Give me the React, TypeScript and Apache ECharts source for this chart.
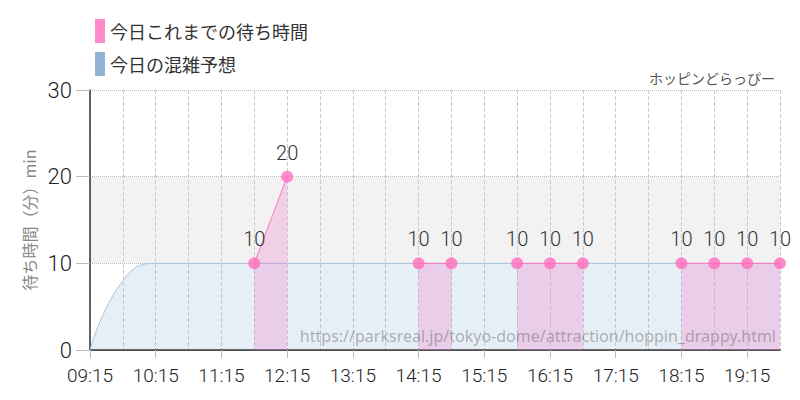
import React, { useEffect, useRef } from "react";
import * as echarts from "echarts";

const categories = [
  "09:15", "09:45", "10:15", "10:45", "11:15", "11:45", "12:15", "12:45",
  "13:15", "13:45", "14:15", "14:45", "15:15", "15:45", "16:15", "16:45",
  "17:15", "17:45", "18:15", "18:45", "19:15", "19:45",
];
const forecast = [0, 8, 10, 10, 10, 10, 10, 10, 10, 10, 10, 10, 10, 10, 10, 10, 10, 10, 10, 10, 10, 10];
const actual = [null, null, null, null, null, 10, 20, null, null, null, 10, 10, null, 10, 10, 10, null, null, 10, 10, 10, 10];
const yTicks = [0, 10, 20, 30];

const COND = "Roboto, 'Liberation Sans', sans-serif";
const JP = "'Noto Sans CJK JP', sans-serif";

export default function App() {
  const ref = useRef<HTMLDivElement>(null);
  useEffect(() => {
    if (!ref.current) return;
    const chart = echarts.init(ref.current, null, { renderer: "svg" });
    chart.setOption({
      animation: false,
      backgroundColor: "#ffffff",
      title: {
        text: "ホッピンどらっぴー",
        right: 20,
        top: 66,
        textStyle: { fontSize: 14, fontWeight: "normal", color: "#555", fontFamily: JP },
      },
      legend: {
        orient: "vertical",
        left: 90,
        top: 14,
        itemWidth: 10,
        itemHeight: 24,
        itemGap: 9,
        icon: "rect",
        textStyle: { fontSize: 18, color: "#333", fontFamily: JP },
        data: ["今日これまでの待ち時間", "今日の混雑予想"],
      },
      grid: { left: 90, right: 20, top: 90, bottom: 50 },
      xAxis: {
        type: "category",
        data: categories,
        boundaryGap: false,
        axisLine: { lineStyle: { color: "#222", width: 1.5 } },
        axisTick: { show: true, interval: 1, length: 8, lineStyle: { color: "#bbb" } },
        axisLabel: { interval: 1, fontSize: 19, color: "#222", fontFamily: COND, fontWeight: 300, margin: 16 },
        splitLine: { show: true, interval: 0, lineStyle: { color: "#ccc", type: "dashed" } },
      },
      yAxis: {
        type: "value",
        min: yTicks[0],
        max: yTicks[yTicks.length - 1],
        interval: 10,
        name: "待ち時間（分）min",
        nameLocation: "middle",
        nameGap: 52,
        nameTextStyle: { fontSize: 16, color: "#888", fontFamily: JP },
        axisLine: { show: true, lineStyle: { color: "#333", width: 1.5 } },
        axisTick: { show: true, length: 14, lineStyle: { color: "#bbb" } },
        axisLabel: { fontSize: 22, color: "#222", fontFamily: COND, fontWeight: 300, margin: 18 },
        splitLine: { show: true, lineStyle: { color: "#bbb", type: "dotted" } },
        splitArea: { show: true, areaStyle: { color: ["rgba(255,255,255,0)", "#f2f2f2"] } },
      },
      graphic: [
        {
          type: "text",
          right: 24,
          top: 328,
          z: 100,
          style: {
            text: "https://parksreal.jp/tokyo-dome/attraction/hoppin_drappy.html",
            fontSize: 16,
            fill: "rgba(110,110,110,0.5)",
            fontFamily: "'Noto Sans', sans-serif",
          },
        },
      ],
      series: [
        {
          name: "今日の混雑予想",
          type: "line",
          data: forecast,
          smooth: true,
          symbol: "none",
          itemStyle: { color: "#8fb4d4" },
          lineStyle: { color: "#a9c4de", width: 1 },
          areaStyle: { color: "rgba(143,180,212,0.3)" },
          z: 1,
        },
        {
          name: "今日これまでの待ち時間",
          type: "line",
          data: actual,
          connectNulls: false,
          symbol: "circle",
          symbolSize: 12,
          itemStyle: { color: "rgba(255,110,190,0.8)" },
          lineStyle: { color: "#ff77bb", width: 1 },
          areaStyle: { color: "rgba(240,120,200,0.4)" },
          label: {
            show: true,
            position: "top",
            distance: 8,
            fontSize: 20,
            fontWeight: 300,
            color: "#333",
            fontFamily: COND,
          },
          z: 3,
        },
      ],
    });
    return () => chart.dispose();
  }, []);
  return <div ref={ref} style={{ width: 800, height: 400, position: "absolute", left: 0, top: 0 }} />;
}
